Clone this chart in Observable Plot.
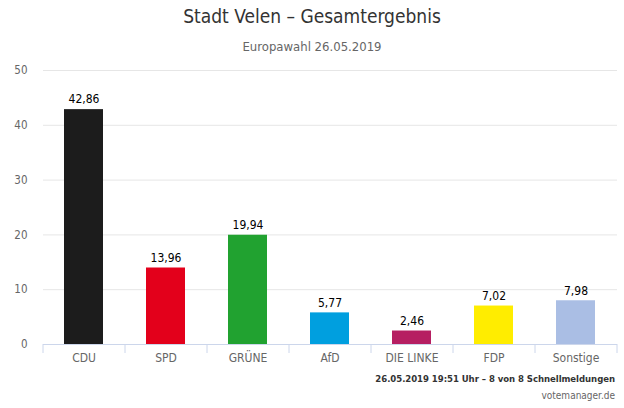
<!DOCTYPE html>
<html>
<head>
<meta charset="utf-8">
<script src="https://cdn.jsdelivr.net/npm/d3@7"></script>
<script src="https://cdn.jsdelivr.net/npm/@observablehq/plot@0.6"></script>
<style>
  body { margin: 0; background: #fff; }
  #wrap { width: 624px; height: 408px; position: relative; font-family: "DejaVu Sans Condensed", sans-serif; overflow: hidden; }
  #title { position: absolute; top: 5px; left: 0; width: 624px; text-align: center; font-size: 19px; color: #333; }
  #subtitle { position: absolute; top: 39px; left: 0; width: 624px; text-align: center; font-size: 13px; color: #666; }
  #chart { position: absolute; top: 60px; left: 0; }
  #foot1 { position: absolute; top: 373px; right: 9px; font-size: 9.5px; font-weight: bold; color: #333; letter-spacing: -0.05px; }
  #foot2 { position: absolute; top: 390px; right: 9px; font-size: 10px; color: #666; }
</style>
</head>
<body>
<div id="wrap">
  <div id="title">Stadt Velen – Gesamtergebnis</div>
  <div id="subtitle">Europawahl 26.05.2019</div>
  <div id="chart"></div>
  <div id="foot1">26.05.2019 19:51 Uhr – 8 von 8 Schnellmeldungen</div>
  <div id="foot2">votemanager.de</div>
</div>
<script>
const parties = ["CDU", "SPD", "GRÜNE", "AfD", "DIE LINKE", "FDP", "Sonstige"];
const values = [42.86, 13.96, 19.94, 5.77, 2.46, 7.02, 7.98];
const colors = ["#1c1c1c", "#e3001b", "#21a230", "#009fdf", "#b61f62", "#ffed00", "#aabee4"];
const yTicks = [0, 10, 20, 30, 40, 50];

const data = parties.map((p, i) => ({party: p, value: values[i], color: colors[i]}));

const W = 624, H = 310, mL = 43, mR = 7, mT = 10, mB = 26;
const band = (W - mL - mR) / parties.length;

const chart = Plot.plot({
  width: W,
  height: H,
  marginLeft: mL,
  marginRight: mR,
  marginTop: mT,
  marginBottom: mB,
  style: { fontFamily: '"DejaVu Sans Condensed", sans-serif', fontSize: "11px", color: "#666", background: "#fff" },
  x: { domain: parties, paddingInner: 0.52, paddingOuter: 0.26, label: null },
  y: { domain: [0, 50], ticks: yTicks, label: null },
  marks: [
    Plot.gridY(yTicks, { stroke: "#e6e6e6", strokeOpacity: 1 }),
    Plot.axisY(yTicks, { tickSize: 0, tickPadding: 16, fontSize: 11.5, fill: "#666", label: null }),
    Plot.barY(data, { x: "party", y: "value", fill: "color" }),
    Plot.ruleY([0], { stroke: "#ccd6eb" }),
    Plot.axisX({ tickSize: 9, dx: -band / 2, stroke: "#ccd6eb", strokeOpacity: 1, tickFormat: () => "", label: null }),
    Plot.axisX([parties[parties.length - 1]], { tickSize: 9, dx: band / 2, stroke: "#ccd6eb", strokeOpacity: 1, tickFormat: () => "", label: null }),
    Plot.axisX({ tickSize: 0, tickPadding: 9, fontSize: 12, fill: "#666", label: null }),
    Plot.text(data, { x: "party", y: "value", text: d => d.value.toFixed(2).replace(".", ","), dy: -10, fontSize: 12, fill: "#000" })
  ]
});
document.getElementById("chart").appendChild(chart);
</script>
</body>
</html>
